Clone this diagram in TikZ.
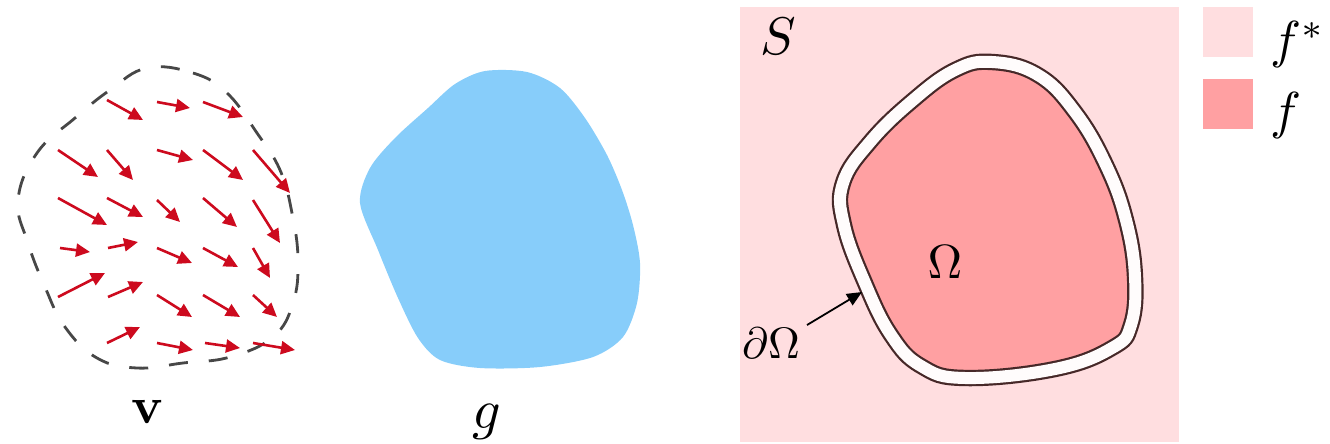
\documentclass[tikz,border=0pt]{standalone}
\usepackage{graphicx}
\usetikzlibrary{arrows.meta}
\definecolor{fstarcol}{RGB}{255,222,224}
\definecolor{fcol}{RGB}{255,160,162}
\definecolor{bluecol}{RGB}{135,205,250}
\definecolor{vecred}{RGB}{205,10,30}
\definecolor{contour}{RGB}{70,40,40}
\begin{document}
\begin{tikzpicture}[x=1pt,y=-1pt,
  vec/.style={draw=vecred,line width=2.6pt,-{Triangle[length=14pt,width=13pt]}},
  dashblob/.style={draw=black!72,line width=2.8pt,dash pattern=on 19pt off 21pt},
  lbl/.style={inner sep=0pt,anchor=base,text=black,font=\fontsize{10}{12}\selectfont},
  ptr/.style={draw=black,line width=1.8pt,-{Triangle[length=15pt,width=13pt]}}
]
\useasboundingbox (0,0) rectangle (1330,444);
% ---- left: vector field v ----
\draw[dashblob] plot[smooth cycle,tension=0.7] coordinates {
 (147,68) (193,73) (227,93) (257,133) (280,170) (292,213) (298,260) (293,303)
 (273,337) (230,357) (183,363) (137,368) (97,358) (65,327) (45,287) (28,243)
 (18,200) (37,153) (75,118) (110,90)};
\foreach \xa/\ya/\xb/\yb in {
 107/100/143/120, 157/102/190/108, 203/102/243/117,
 58/150/98/177, 107/150/133/180, 157/150/193/160, 203/150/243/180, 253/150/290/193,
 58/198/107/225, 107/198/143/217, 157/200/180/222, 203/198/237/227, 253/200/280/243,
 60/248/90/252, 108/248/138/242, 157/248/192/263, 203/248/238/267, 253/248/270/278,
 58/297/105/273, 108/297/143/282, 157/295/192/317, 203/295/240/317, 253/295/277/317,
 107/343/140/327, 157/343/193/350, 205/343/240/348, 253/343/295/350}
 \draw[vec] (\xa,\ya) -- (\xb,\yb);
\node[lbl] (v) at (148,423) {\scalebox{5.2}{$\mathbf{v}$}};
% ---- middle: g ----
\fill[bluecol] plot[smooth cycle,tension=0.5] coordinates {
 (485,71) (527,72) (560,88) (585,118) (607,155) (622,190) (633,225) (640,263)
 (637,303) (623,337) (593,357) (540,367) (480,368) (440,360) (418,338) (398,298)
 (378,250) (360,203) (370,168) (395,138) (428,108) (455,84)};
\node[lbl] (g) at (487,428) {\scalebox{5.6}{$g$}};
% ---- right: S, Omega ----
\fill[fstarcol] (740,7) rectangle (1179,442);
\filldraw[fill=fcol,draw=contour,line width=2.2pt,double=white!90!fstarcol,double distance=12pt]
 plot[smooth cycle,tension=0.7] coordinates {
 (992,62) (1038,75) (1075,112) (1106,165) (1126,220) (1135,277) (1131,325) (1112,348)
 (1055,369) (965,378) (921,366) (891,335) (865,283) (844,225) (843,183) (870,142)
 (912,101) (955,70)};
\node[lbl] (S) at (778,55) {\scalebox{5.3}{$S$}};
\node[lbl] (Om) at (945,278) {\scalebox{4.8}{$\Omega$}};
\node[lbl,anchor=base west] (dOm) at (742,358) {\scalebox{4.4}{$\partial\Omega$}};
\coordinate (ptrtail) at (807,325);
\coordinate (ptrtip) at (862,292);
\draw[ptr] (ptrtail) -- (ptrtip);
% ---- legend ----
\fill[fstarcol] (1203,7) rectangle (1253,57);
\fill[fcol] (1203,79) rectangle (1253,129);
\node[lbl,anchor=base west] (lfs) at (1270,58) {\scalebox{5.2}{$f^{*}$}};
\node[lbl,anchor=base west] (lf) at (1270,128) {\scalebox{5.2}{$f$}};
\end{tikzpicture}
\end{document}
